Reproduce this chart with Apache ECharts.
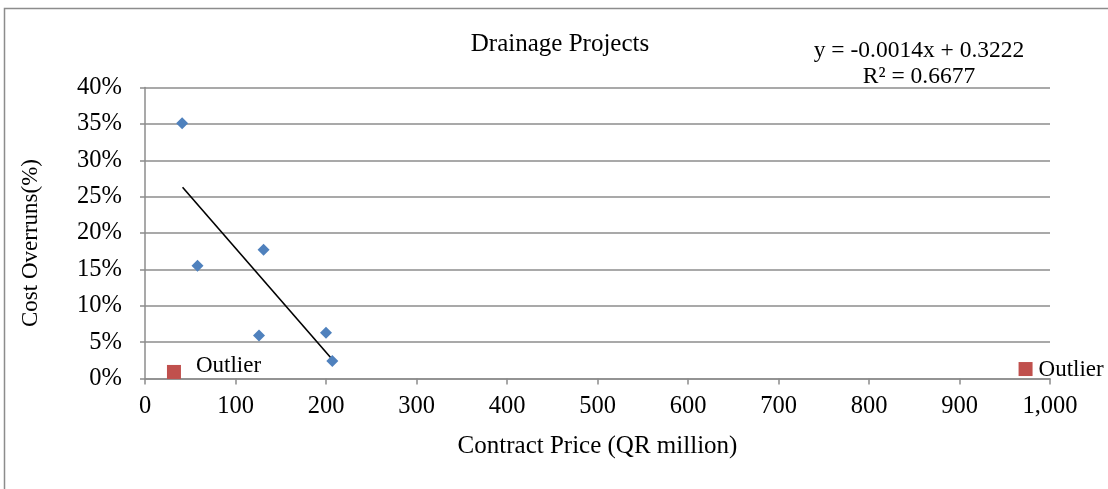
<!DOCTYPE html>
<html><head><meta charset="utf-8">
<script src="https://cdn.jsdelivr.net/npm/echarts@6/dist/echarts.min.js"></script>
<style>html,body{margin:0;padding:0;background:#fff}#c{width:1108px;height:489px}</style>
</head><body><div id="c"></div>
<script>
const projectPrices = [41, 58, 131, 126, 200, 207];
const projectOverruns = [35.1, 15.5, 17.7, 5.9, 6.3, 2.4];
const outlierPrices = [32, 973];
const outlierOverruns = [0.9, 1.3];
const outlierLabels = ['Outlier', 'Outlier'];
const trendX = [41.5, 207];
const trendY = [26.3, 2.6];
const xTicks = [0,100,200,300,400,500,600,700,800,900,1000];
const yTicks = [0,5,10,15,20,25,30,35,40];

const font = 'Liberation Serif, Times New Roman, serif';
const chart = echarts.init(document.getElementById('c'));
const fmtX = v => v.toLocaleString('en-US');
const labelPlacement = [{distance:15, offset:[0,-6]}, {distance:6, offset:[0,1]}];
chart.setOption({
  animation: false,
  textStyle: {fontFamily: font},
  graphic: [
    {type:'rect', shape:{x:4.5,y:8.5,width:1200,height:600}, style:{fill:'none', stroke:'#8c8c8c', lineWidth:1.5}, silent:true, z:-1},
    {type:'text', style:{text:'Drainage Projects', font:'25px '+font, fill:'#000', x:560, y:44, align:'center', verticalAlign:'middle'}},
    {type:'text', style:{text:'y = -0.0014x + 0.3222', font:'23.5px '+font, fill:'#000', x:919, y:51, align:'center', verticalAlign:'middle'}},
    {type:'text', style:{text:'R² = 0.6677', font:'23.5px '+font, fill:'#000', x:919, y:77, align:'center', verticalAlign:'middle'}},
    {type:'text', x:31, y:243, rotation:Math.PI/2, style:{text:'Cost Overruns(%)', font:'23px '+font, fill:'#000', x:0, y:0, align:'center', verticalAlign:'middle'}}
  ],
  grid: {left:145, right:58, top:87.5, bottom:110.5},
  xAxis: {
    type:'value', min:0, max:1000, interval:100,
    name:'Contract Price (QR million)', nameLocation:'middle', nameGap:55,
    nameTextStyle:{fontSize:25, color:'#000', fontFamily:font},
    axisLine:{show:true, lineStyle:{color:'#8c8c8c', width:1.5}},
    axisTick:{show:true, inside:false, length:6, lineStyle:{color:'#8c8c8c', width:1.5}},
    splitLine:{show:false},
    axisLabel:{fontSize:24.5, color:'#000', fontFamily:font, margin:16, formatter: v => fmtX(v)}
  },
  yAxis: {
    type:'value', min:0, max:40, interval:5,
    axisLine:{show:true, lineStyle:{color:'#8c8c8c', width:1.5}},
    axisTick:{show:true, length:5, lineStyle:{color:'#8c8c8c', width:1.5}},
    splitLine:{show:true, lineStyle:{color:'#8c8c8c', width:1.5}},
    axisLabel:{fontSize:24.5, color:'#000', fontFamily:font, margin:23, formatter: v => v + '%'}
  },
  series: [
    {type:'line', data: trendX.map((x,i)=>[x,trendY[i]]), symbol:'none', lineStyle:{color:'#000', width:1.6}, z:3},
    {type:'scatter', data: projectPrices.map((x,i)=>[x,projectOverruns[i]]), symbol:'diamond', symbolSize:12, itemStyle:{color:'#4F81BD', opacity:1}, z:4},
    {type:'scatter', symbol:'rect', symbolSize:14, itemStyle:{color:'#C0504D', opacity:1}, z:4,
     data: outlierPrices.map((x,i)=>({value:[x,outlierOverruns[i]],
       label:{show:true, position:'right', distance:labelPlacement[i].distance, offset:labelPlacement[i].offset,
              formatter:outlierLabels[i], fontSize:23, color:'#000', fontFamily:font}}))}
  ]
});
</script></body></html>
